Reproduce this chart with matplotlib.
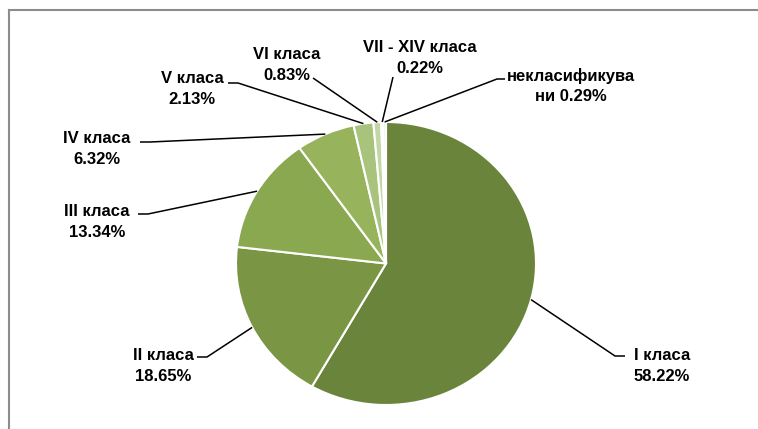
import matplotlib
matplotlib.use("Agg")
import matplotlib.pyplot as plt
from matplotlib.lines import Line2D
import numpy as np

categories = ["I класа", "II класа", "III класа", "IV класа", "V класа",
              "VI класа", "VII - XIV класа", "некласификува\nни"]
values = [58.22, 18.65, 13.34, 6.32, 2.13, 0.83, 0.22, 0.29]
colors = ["#6b843c", "#7a9644", "#8aa84f", "#97b35b", "#a8c47c",
          "#c3d7a6", "#dbe6cb", "#e6eddb"]

W, H = 758, 429
fig = plt.figure(figsize=(W / 100, H / 100), dpi=100)
fig.patch.set_facecolor("white")

# pie placement in pixels (center, radii)
cx, cy, rx, ry = 386, 263.5, 150, 141.5
ax = fig.add_axes([(cx - rx) / W, (H - cy - ry) / H, 2 * rx / W, 2 * ry / H])
wedges, _ = ax.pie(values, colors=colors, startangle=90, counterclock=False,
                   radius=1, wedgeprops=dict(edgecolor="white", linewidth=1.5))
ax.set_aspect("auto")
ax.set_xlim(-1, 1)
ax.set_ylim(-1, 1)
ax.axis("off")


def px(x, y):
    return (x - cx) / rx, (cy - y) / ry

# label layout: text centre, line anchor near text, elbow (pixels)
layout = [
    ((662, 366), (625, 356), (615, 356)),
    ((163, 366), (197, 357), (207, 357)),
    ((97, 222), (138, 214), (148, 214)),
    ((97, 149), (140, 142), (150, 142)),
    ((192, 89), (228, 83), (238, 83)),
    ((287, 65), (313, 78), (313, 78)),
    ((420, 58), (393, 77), (393, 77)),
    ((571, 86), (505, 79), (497, 79)),
]

font = dict(family=["Liberation Sans", "DejaVu Sans"], weight="bold",
            size=12, color="black")

cum = np.cumsum([0] + values[:-1])
for i, (cat, v) in enumerate(zip(categories, values)):
    mid = 90 - (cum[i] + v / 2) * 3.6
    ex, ey = np.cos(np.radians(mid)), np.sin(np.radians(mid))
    (tx, ty), (ax_, ay_), (bx, by) = layout[i]
    p1 = px(ax_, ay_)
    p2 = px(bx, by)
    ax.plot([p1[0], p2[0], ex], [p1[1], p2[1], ey], color="black", lw=1.1,
            clip_on=False, solid_capstyle="butt")
    if "\n" in cat:
        txt = f"{cat} {v:.2f}%"
    else:
        txt = f"{cat}\n{v:.2f}%"
    t = px(tx, ty)
    ax.text(t[0], t[1], txt, ha="center", va="center", linespacing=1.42,
            clip_on=False, **font)

# chart frame (extends beyond the visible area on right and bottom)
fig.add_artist(Line2D([9 / W, 1.01], [1 - 10 / H, 1 - 10 / H],
                      transform=fig.transFigure, color="#8c8c8c", lw=1.5))
fig.add_artist(Line2D([9 / W, 9 / W], [1 - 10 / H, -0.01],
                      transform=fig.transFigure, color="#8c8c8c", lw=1.5))

fig.savefig("out.png", dpi=100, facecolor="white")
